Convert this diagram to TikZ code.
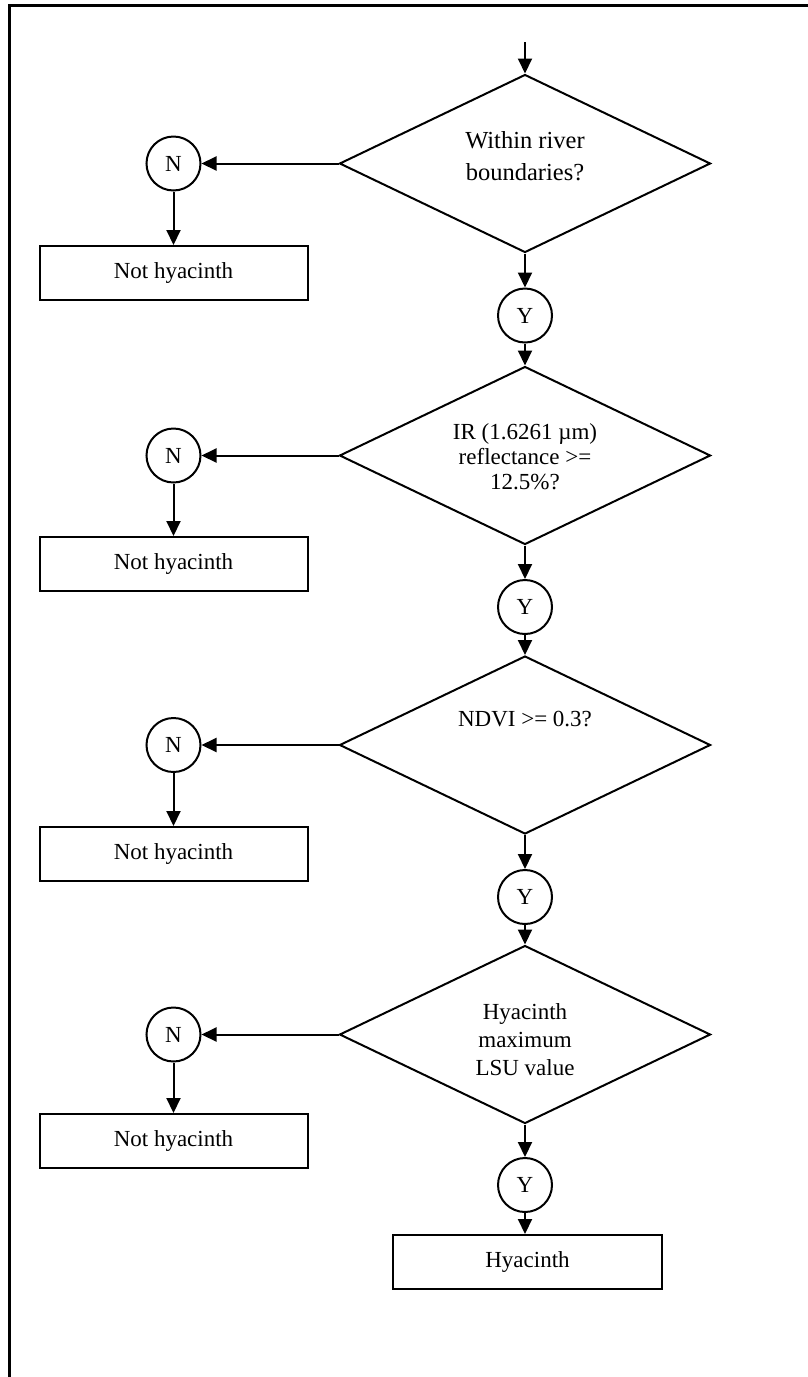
\documentclass[tikz,border=0pt]{standalone}
\usepackage{fontspec}
\setmainfont{Liberation Serif}
\usetikzlibrary{shapes.geometric,arrows.meta,calc}
\begin{document}
\begin{tikzpicture}[x=0.5pt,y=-0.5pt,
  line width=1pt,
  >={Triangle[length=7.5pt,width=7pt]},
  dia/.style={draw,diamond,minimum width=185.5pt,minimum height=89pt,inner sep=0pt},
  circ/.style={draw,circle,minimum size=27pt,inner sep=0pt,font=\fontsize{11.5}{13}\selectfont},
  box/.style={draw,rectangle,minimum width=134pt,minimum height=27pt,inner sep=0pt,font=\fontsize{11.5}{13}\selectfont},
  txt/.style={align=center,inner sep=0pt,font=\fontsize{11.5}{13}\selectfont},
]
\useasboundingbox (0,0) rectangle (808,1377);
\draw[line width=1.5pt] (9.5,1377) -- (9.5,5.5) -- (808,5.5);

% block 1
\coordinate (start) at (525,42);
\node[dia] (d1) at (525,163.5) {};
\node[txt,font=\fontsize{12.25}{16}\selectfont] (t1) at (525,156) {Within river\\boundaries?};
\node[circ] (n1) at (173.5,163.5) {N};
\node[box] (b1) at (173.5,273) {Not hyacinth};
\node[circ] (y1) at (525,315.5) {Y};

% block 2
\node[dia] (d2) at (525,455.5) {};
\node[txt,font=\fontsize{11.5}{12.5}\selectfont] (t2) at (525,457) {IR (1.6261 µm)\\reflectance >=\\12.5\%?};
\node[circ] (n2) at (173.5,455.5) {N};
\node[box] (b2) at (173.5,564) {Not hyacinth};
\node[circ] (y2) at (525,607) {Y};

% block 3
\node[dia] (d3) at (525,745) {};
\node[txt] (t3) at (525,719) {NDVI >= 0.3?};
\node[circ] (n3) at (173.5,745) {N};
\node[box] (b3) at (173.5,854) {Not hyacinth};
\node[circ] (y3) at (525,897) {Y};

% block 4
\node[dia] (d4) at (525,1034.5) {};
\node[txt,font=\fontsize{11.5}{14}\selectfont] (t4) at (525,1040) {Hyacinth\\maximum\\LSU value};
\node[circ] (n4) at (173.5,1034.5) {N};
\node[box] (b4) at (173.5,1141) {Not hyacinth};
\node[circ] (y4) at (525,1185) {Y};
\node[box,minimum width=134.5pt] (fin) at (527.5,1262) {Hyacinth};

\draw[->] (start) -- (d1.north);
\draw[->] (d1.west) -- (n1.east);
\draw[->] (n1.south) -- (b1.north);
\draw[->] (d1.south) -- (y1.north);
\draw[->] (y1.south) -- (d2.north);

\draw[->] (d2.west) -- (n2.east);
\draw[->] (n2.south) -- (b2.north);
\draw[->] (d2.south) -- (y2.north);
\draw[->] (y2.south) -- (d3.north);

\draw[->] (d3.west) -- (n3.east);
\draw[->] (n3.south) -- (b3.north);
\draw[->] (d3.south) -- (y3.north);
\draw[->] (y3.south) -- (d4.north);

\draw[->] (d4.west) -- (n4.east);
\draw[->] (n4.south) -- (b4.north);
\draw[->] (d4.south) -- (y4.north);
\draw[->] (y4.south) -- (y4.south |- fin.north);
\end{tikzpicture}
\end{document}
